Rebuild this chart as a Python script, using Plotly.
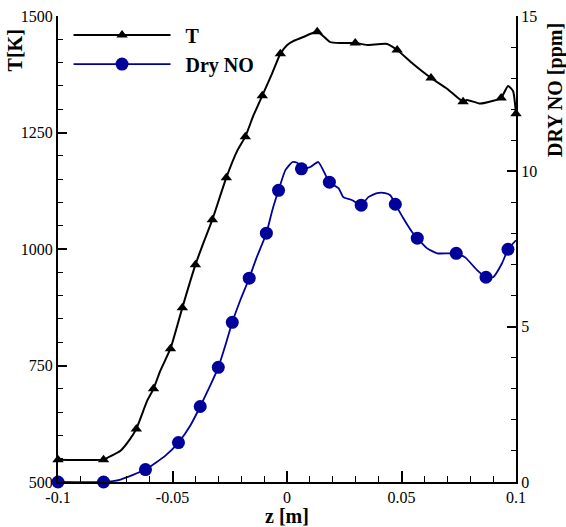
import plotly.graph_objects as go

# ---- Temperature curve (z [m], T [K]) ----
t_z = [-0.1, -0.0801, -0.0784, -0.0727, -0.0684, -0.0658, -0.0610, -0.0583, -0.0553, -0.0509,
       -0.0483, -0.0457, -0.0400, -0.0365, -0.0326, -0.0265, -0.0217, -0.0182, -0.0147, -0.0108,
       -0.0064, -0.0029, 0.0001, 0.0027, 0.0071, 0.0132, 0.0167, 0.0189, 0.0232, 0.0298,
       0.0350, 0.0437, 0.0481, 0.0551, 0.0629, 0.0699, 0.0769, 0.0786, 0.0843, 0.0900,
       0.0935, 0.0965, 0.0987, 0.1]
t_val = [548, 548, 552, 567, 593, 614, 675, 700, 739, 786,
         829, 874, 966, 1013, 1063, 1153, 1211, 1241, 1286, 1329,
         1378, 1419, 1438, 1446, 1455, 1466, 1453, 1444, 1442, 1442,
         1438, 1440, 1427, 1397, 1367, 1344, 1316, 1320, 1312, 1318,
         1324, 1350, 1339, 1290]
t_mark_z = [-0.1, -0.0801, -0.0658, -0.0583, -0.0509, -0.0457, -0.0400, -0.0326, -0.0265, -0.0182,
            -0.0108, -0.0029, 0.0132, 0.0298, 0.0481, 0.0629, 0.0769, 0.0935, 0.1]
t_mark_val = [548, 548, 614, 700, 786, 874, 966, 1063, 1153, 1241,
              1329, 1419, 1466, 1442, 1427, 1367, 1316, 1324, 1290]

# ---- Dry NO curve (z [m], NO [ppm]) ----
no_z = [-0.1, -0.0801, -0.0727, -0.0618, -0.0531, -0.0474, -0.0422, -0.0379, -0.0335, -0.0300,
        -0.0269, -0.0239, -0.0204, -0.0165, -0.0134, -0.0090, -0.0064, -0.0037, -0.0007, 0.0024,
        0.0046, 0.0063, 0.0102, 0.0137, 0.0185, 0.0225, 0.0246, 0.0285, 0.0324, 0.0355,
        0.0394, 0.0429, 0.0451, 0.0473, 0.0508, 0.0547, 0.0569, 0.0612, 0.0656, 0.0700,
        0.0739, 0.0778, 0.0830, 0.0869, 0.0900, 0.0939, 0.0965, 0.1]
no_val = [0.0, 0.0, 0.08, 0.40, 0.85, 1.27, 1.82, 2.43, 3.11, 3.69,
          4.40, 5.14, 5.85, 6.56, 7.20, 8.01, 8.75, 9.39, 10.04, 10.30,
          10.27, 10.08, 10.14, 10.30, 9.65, 9.46, 9.17, 9.07, 8.91, 9.17,
          9.30, 9.30, 9.23, 8.94, 8.49, 8.04, 7.85, 7.52, 7.36, 7.36,
          7.36, 7.23, 6.82, 6.59, 6.59, 7.04, 7.49, 7.78]
no_mark_z = [-0.1, -0.0801, -0.0618, -0.0474, -0.0379, -0.0300, -0.0239, -0.0165, -0.0090, -0.0037,
             0.0063, 0.0185, 0.0324, 0.0473, 0.0569, 0.0739, 0.0869, 0.0965]
no_mark_val = [0.0, 0.0, 0.40, 1.27, 2.43, 3.69, 5.14, 6.56, 8.01, 9.39,
               10.08, 9.65, 8.91, 8.94, 7.85, 7.36, 6.59, 7.49]

# ---- Axis ticks ----
x_ticks = [-0.1, -0.05, 0, 0.05, 0.1]
x_ticklabels = ["-0.1", "-0.05", "0", "0.05", "0.1"]
t_ticks = [500, 750, 1000, 1250, 1500]
no_ticks = [0, 5, 10, 15]

BLACK = "#000000"
BLUE = "rgb(0,0,155)"
SERIF = "'Liberation Serif', 'Times New Roman', Times, serif"

fig = go.Figure()

fig.add_trace(go.Scatter(x=t_z, y=t_val, mode="lines", line=dict(color=BLACK, width=2, shape="spline", smoothing=0.5),
                         showlegend=False, hoverinfo="skip"))
fig.add_trace(go.Scatter(x=t_mark_z, y=t_mark_val, mode="markers",
                         marker=dict(symbol="triangle-up", size=10, color=BLACK), showlegend=False, cliponaxis=False))
fig.add_trace(go.Scatter(x=no_z, y=no_val, yaxis="y2", mode="lines",
                         line=dict(color=BLUE, width=1.8, shape="spline", smoothing=0.5),
                         showlegend=False, hoverinfo="skip"))
fig.add_trace(go.Scatter(x=no_mark_z, y=no_mark_val, yaxis="y2", mode="markers",
                         marker=dict(symbol="circle", size=13, color=BLUE), showlegend=False, cliponaxis=False))

# legend entries
fig.add_trace(go.Scatter(x=[None], y=[None], mode="lines+markers", name="\u00a0\u00a0<b>T</b>",
                         line=dict(color=BLACK, width=2), marker=dict(symbol="triangle-up", size=10, color=BLACK)))
fig.add_trace(go.Scatter(x=[None], y=[None], mode="lines+markers", name="\u00a0\u00a0<b>Dry NO</b>",
                         line=dict(color=BLUE, width=1.8), marker=dict(symbol="circle", size=13, color=BLUE)))

axis_font = dict(family=SERIF, size=16, color=BLACK)

fig.update_layout(
    width=566, height=527,
    margin=dict(l=58, r=50, t=16, b=45, autoexpand=False),
    paper_bgcolor="white", plot_bgcolor="white",
    font=dict(family=SERIF, color=BLACK),
    showlegend=True,
    legend=dict(x=0.023, y=1.001, xanchor="left", yanchor="top", bgcolor="rgba(0,0,0,0)",
                font=dict(family=SERIF, size=20, color=BLACK), itemwidth=97, tracegroupgap=0),
    xaxis=dict(range=[-0.1, 0.1], tickvals=x_ticks, ticktext=x_ticklabels, ticks="inside", ticklen=11,
               tickwidth=2, tickcolor=BLACK, showline=True, linewidth=2, linecolor=BLACK,
               showgrid=False, zeroline=False, tickfont=axis_font, automargin=False, ticklabeloverflow="allow",
               minor=dict(dtick=0.01, ticks="inside", ticklen=6, tickwidth=1, tickcolor=BLACK, showgrid=False),
               title=dict(text="<b>z [m]</b>", font=dict(family=SERIF, size=20, color=BLACK), standoff=4)),
    yaxis=dict(range=[500, 1500], tickvals=t_ticks, ticks="inside", ticklen=9, tickwidth=2, tickcolor=BLACK,
               showline=True, linewidth=2, linecolor=BLACK, showgrid=False, zeroline=False, tickfont=axis_font,
               automargin=False, ticklabeloverflow="allow",
               minor=dict(dtick=50, ticks="inside", ticklen=5, tickwidth=1, tickcolor=BLACK, showgrid=False)),
    yaxis2=dict(range=[0, 15], tickvals=no_ticks, overlaying="y", side="right", anchor="x",
                ticks="inside", ticklen=9, tickwidth=2, tickcolor=BLACK, automargin=False, ticklabeloverflow="allow",
                showline=True, linewidth=2, linecolor=BLACK, showgrid=False, zeroline=False, tickfont=axis_font,
                minor=dict(dtick=1, ticks="inside", ticklen=5, tickwidth=1, tickcolor=BLACK, showgrid=False)),
    annotations=[
        dict(text="<b>T[K]</b>", textangle=-90, xref="paper", yref="paper", x=-0.093, y=0.927,
             xanchor="center", yanchor="middle",
             showarrow=False, font=dict(family=SERIF, size=20, color=BLACK)),
        dict(text="<b>DRY NO [ppm]</b>", textangle=-90, xref="paper", yref="paper", x=1.085, y=0.841,
             xanchor="center", yanchor="middle",
             showarrow=False, font=dict(family=SERIF, size=20, color=BLACK)),
    ],
)

# remove the browser's default 8px body margin so the figure fills the window exactly
fig.write_html("out.html", config={"displayModeBar": False},
               post_script="document.body.style.margin='0';document.body.style.overflow='hidden';")
